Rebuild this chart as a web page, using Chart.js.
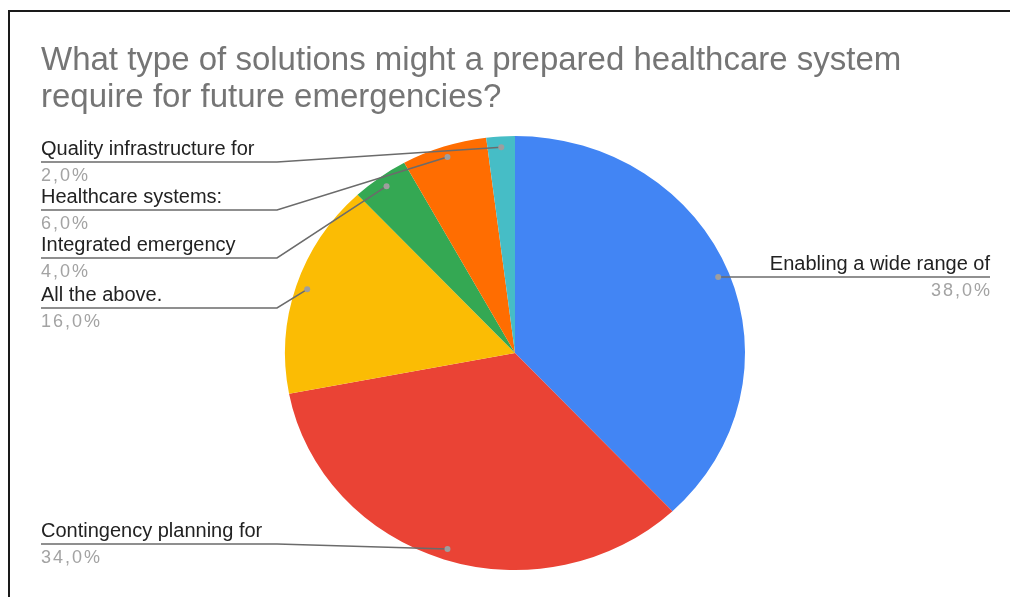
<!DOCTYPE html>
<html>
<head>
<meta charset="utf-8">
<script src="https://cdn.jsdelivr.net/npm/chart.js@4.4.1/dist/chart.umd.min.js"></script>
<style>
  html, body { margin: 0; padding: 0; background: #fff; }
  #wrap { position: relative; width: 1010px; height: 597px; overflow: hidden; }
  #frame { position: absolute; left: 8px; top: 10px; width: 1010px; height: 600px;
           border-left: 2px solid #1a1a1a; border-top: 2px solid #1a1a1a; }
  canvas { position: absolute; left: 0; top: 0; }
</style>
</head>
<body>
<div id="wrap">
  <div id="frame"></div>
  <canvas id="pie" width="1010" height="597"></canvas>
</div>
<script>
const titleLines = ['What type of solutions might a prepared healthcare system',
                    'require for future emergencies?'];
const categories = ['Enabling a wide range of', 'Contingency planning for', 'All the above.',
                    'Integrated emergency', 'Healthcare systems:', 'Quality infrastructure for'];
const shares = [38, 34, 16, 4, 6, 2];
const sliceColors = ['#4285f4', '#ea4335', '#fbbc04', '#34a853', '#ff6d01', '#46bdc6'];

// the pie is drawn a bit wider than tall
const stretchX = 1.06;

// where each label's underline sits (left column or right column)
const labelRows = {
  'Enabling a wide range of': { side: 'right', y: null },
  'Contingency planning for': { side: 'left', y: 544 },
  'All the above.': { side: 'left', y: 308 },
  'Integrated emergency': { side: 'left', y: 258 },
  'Healthcare systems:': { side: 'left', y: 210 },
  'Quality infrastructure for': { side: 'left', y: 162 }
};

function formatShare(v) {
  return v.toFixed(1).replace('.', ',') + '%';
}

const stretchPlugin = {
  id: 'stretch',
  beforeDatasetsDraw(chart) {
    const arc = chart.getDatasetMeta(0).data[0];
    const ctx = chart.ctx;
    ctx.save();
    ctx.translate(arc.x, arc.y);
    ctx.scale(stretchX, 1);
    ctx.translate(-arc.x, -arc.y);
  },
  afterDatasetsDraw(chart) {
    chart.ctx.restore();
  }
};

const labelPlugin = {
  id: 'leaderLabels',
  afterDraw(chart) {
    const ctx = chart.ctx;
    ctx.save();

    // title
    ctx.fillStyle = '#757575';
    ctx.font = '33px "Liberation Sans", Arial, sans-serif';
    ctx.textBaseline = 'alphabetic';
    ctx.textAlign = 'left';
    titleLines.forEach((line, i) => ctx.fillText(line, 41, 70 + i * 37));

    const meta = chart.getDatasetMeta(0);
    const total = shares.reduce((a, b) => a + b, 0);
    meta.data.forEach((arc, i) => {
      const mid = (arc.startAngle + arc.endAngle) / 2;
      const r = arc.outerRadius * 0.95;
      const px = arc.x + Math.cos(mid) * r * stretchX;
      const py = arc.y + Math.sin(mid) * r;
      const row = labelRows[categories[i]];
      const pct = formatShare(shares[i] / total * 100);

      ctx.strokeStyle = '#6b6b6b';
      ctx.lineWidth = 1.5;
      ctx.beginPath();
      let lineY, textX, align;
      if (row.side === 'left') {
        lineY = row.y;
        ctx.moveTo(41, lineY);
        ctx.lineTo(277, lineY);
        ctx.lineTo(px, py);
        textX = 41;
        align = 'left';
      } else {
        lineY = py;
        ctx.moveTo(px, py);
        ctx.lineTo(990, py);
        textX = 990;
        align = 'right';
      }
      ctx.stroke();

      ctx.fillStyle = '#9e9e9e';
      ctx.beginPath();
      ctx.arc(px, py, 3, 0, Math.PI * 2);
      ctx.fill();

      ctx.textAlign = align;
      ctx.letterSpacing = '0px';
      ctx.fillStyle = '#222222';
      ctx.font = '20px "Liberation Sans", Arial, sans-serif';
      ctx.fillText(categories[i], textX, lineY - 7);
      ctx.fillStyle = '#a3a3a3';
      ctx.font = '18px "Liberation Sans", Arial, sans-serif';
      ctx.letterSpacing = '2px';
      // trailing spacing pushes right-aligned text left, so offset it back
      ctx.fillText(pct, align === 'right' ? textX + 2 : textX, lineY + 19);
    });
    ctx.restore();
  }
};

new Chart(document.getElementById('pie'), {
  type: 'pie',
  data: {
    labels: categories,
    datasets: [{
      data: shares,
      backgroundColor: sliceColors,
      borderWidth: 0,
      hoverOffset: 0
    }]
  },
  options: {
    responsive: false,
    animation: false,
    layout: { padding: { left: 298, right: 278, top: 136, bottom: 27 } },
    plugins: {
      legend: { display: false },
      tooltip: { enabled: false },
      title: { display: false }
    }
  },
  plugins: [stretchPlugin, labelPlugin]
});
</script>
</body>
</html>
